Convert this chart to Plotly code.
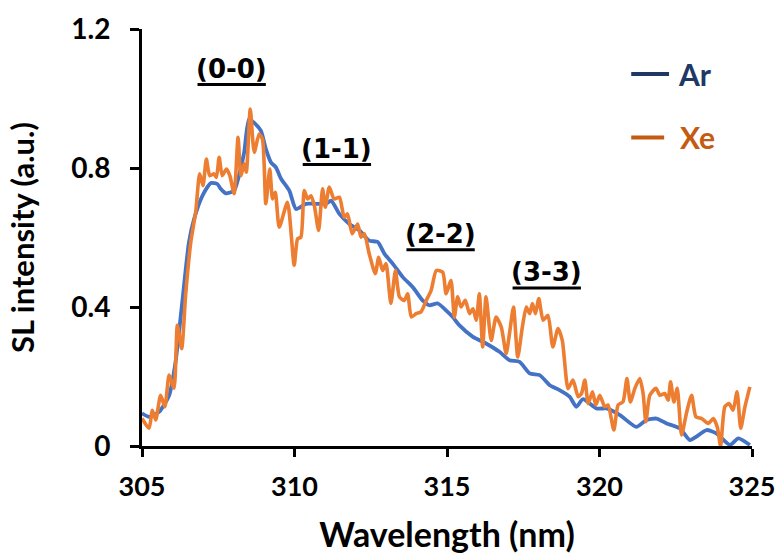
import plotly.graph_objects as go

# ---- data ----
ar_wl = [305.0, 305.23, 305.56, 305.89, 306.1, 306.32, 306.54, 306.71, 306.98, 307.26,
         307.47, 307.58, 307.75, 308.02, 308.18, 308.35, 308.51, 308.68, 308.9, 309.06,
         309.23, 309.39, 309.56, 309.83, 310.05, 310.38, 310.7, 311.03, 311.2, 311.47,
         311.8, 312.13, 312.45, 312.73, 312.95, 313.22, 313.55, 313.88, 314.2, 314.42,
         314.7, 315.02, 315.19, 315.41, 315.85, 316.28, 316.72, 317.05, 317.38, 317.71,
         318.04, 318.37, 318.69, 319.02, 319.24, 319.46, 319.9, 320.23, 320.67, 321.21,
         321.54, 321.87, 322.2, 322.63, 322.96, 323.18, 323.51, 323.84, 324.28, 324.55,
         324.93]
ar_int = [0.094, 0.084, 0.098, 0.146, 0.242, 0.414, 0.587, 0.654, 0.72, 0.757,
          0.754, 0.74, 0.727, 0.735, 0.778, 0.845, 0.94, 0.93, 0.907, 0.855,
          0.816, 0.802, 0.769, 0.735, 0.682, 0.697, 0.697, 0.697, 0.706, 0.668,
          0.639, 0.62, 0.591, 0.587, 0.553, 0.525, 0.486, 0.457, 0.419, 0.405,
          0.41, 0.386, 0.371, 0.347, 0.314, 0.295, 0.271, 0.247, 0.242, 0.209,
          0.204, 0.175, 0.161, 0.142, 0.113, 0.135, 0.108, 0.108, 0.089, 0.055,
          0.075, 0.079, 0.065, 0.051, 0.017, 0.027, 0.046, 0.036, 0.003, 0.022,
          0.003]

xe_wl = [305.0, 305.23, 305.34, 305.45, 305.61, 305.75, 305.89, 306.05, 306.16, 306.3,
         306.43, 306.6, 306.76, 306.89, 307.0, 307.11, 307.22, 307.36, 307.44, 307.53,
         307.63, 307.77, 307.88, 308.02, 308.15, 308.24, 308.35, 308.42, 308.55, 308.68,
         308.84, 308.95, 309.06, 309.19, 309.28, 309.37, 309.5, 309.77, 309.99, 310.1,
         310.21, 310.32, 310.43, 310.54, 310.65, 310.79, 310.92, 311.01, 311.14, 311.3,
         311.47, 311.63, 311.74, 311.89, 312.07, 312.18, 312.29, 312.45, 312.65, 312.76,
         312.89, 313.0, 313.16, 313.31, 313.44, 313.6, 313.71, 313.83, 313.99, 314.15,
         314.32, 314.48, 314.65, 314.86, 314.97, 315.13, 315.24, 315.35, 315.46, 315.6,
         315.74, 315.85, 315.96, 316.06, 316.17, 316.28, 316.45, 316.61, 316.78, 316.94,
         317.05, 317.18, 317.32, 317.47, 317.6, 317.71, 317.8, 317.9, 318.01, 318.15,
         318.31, 318.47, 318.64, 318.78, 318.97, 319.13, 319.3, 319.41, 319.52, 319.63,
         319.77, 319.88, 320.01, 320.17, 320.28, 320.47, 320.61, 320.77, 320.9, 321.01,
         321.16, 321.32, 321.43, 321.52, 321.65, 321.85, 321.98, 322.14, 322.25, 322.33,
         322.44, 322.55, 322.69, 322.86, 323.02, 323.16, 323.35, 323.57, 323.73, 323.86,
         323.97, 324.11, 324.25, 324.38, 324.51, 324.63, 324.77, 324.93]
xe_int = [0.079, 0.051, 0.103, 0.075, 0.146, 0.113, 0.204, 0.166, 0.347, 0.28,
          0.434, 0.587, 0.673, 0.783, 0.749, 0.826, 0.778, 0.783, 0.773, 0.831,
          0.778, 0.797, 0.778, 0.726, 0.888, 0.778, 0.812, 0.788, 0.97, 0.845,
          0.898, 0.883, 0.697, 0.797, 0.711, 0.73, 0.63, 0.701, 0.52, 0.596,
          0.601, 0.735, 0.711, 0.72, 0.692, 0.62, 0.74, 0.687, 0.745, 0.711,
          0.716, 0.658, 0.668, 0.611, 0.639, 0.601, 0.611, 0.553, 0.496, 0.543,
          0.505, 0.525, 0.41, 0.505, 0.429, 0.419, 0.438, 0.371, 0.381, 0.386,
          0.419, 0.448, 0.505, 0.50, 0.438, 0.476, 0.371, 0.429, 0.40, 0.419,
          0.381, 0.395, 0.362, 0.438, 0.285, 0.429, 0.304, 0.371, 0.342, 0.266,
          0.324, 0.40, 0.256, 0.342, 0.40, 0.381, 0.41, 0.381, 0.424, 0.362,
          0.376, 0.285, 0.338, 0.304, 0.165, 0.19, 0.142, 0.151, 0.19, 0.122,
          0.156, 0.118, 0.146, 0.113, 0.118, 0.046, 0.118, 0.127, 0.194, 0.127,
          0.166, 0.194, 0.151, 0.07, 0.146, 0.166, 0.146, 0.151, 0.132, 0.185,
          0.127, 0.166, 0.032, 0.098, 0.146, 0.084, 0.079, 0.065, 0.079, 0.055,
          0.0, 0.113, 0.122, 0.103, 0.156, 0.051, 0.113, 0.17]

peak_labels = ["(0-0)", "(1-1)", "(2-2)", "(3-3)"]
peak_x = [307.94, 311.39, 314.79, 318.27]
peak_y = [1.085, 0.855, 0.61, 0.50]

x_ticks = [305, 310, 315, 320, 325]
y_ticks = [0, 0.4, 0.8, 1.2]

AR_COLOR = "#4472C4"
XE_COLOR = "#ED7D31"
FONT = "Lato"

fig = go.Figure()
fig.add_trace(go.Scatter(x=ar_wl, y=ar_int, mode="lines", name="Ar",
                         line=dict(color=AR_COLOR, width=3.8, shape="spline", smoothing=0.6),
                         showlegend=False))
fig.add_trace(go.Scatter(x=xe_wl, y=xe_int, mode="lines", name="Xe",
                         line=dict(color=XE_COLOR, width=3.6, shape="spline", smoothing=0.6),
                         showlegend=False))

# peak labels with underline (underline offset/size are style, in axis units)
UL_HALF_W = 1.12   # half width of underline in nm
UL_DROP = 0.045    # underline distance below label centre
for lab, px, py in zip(peak_labels, peak_x, peak_y):
    fig.add_annotation(x=px, y=py, xref="x", yref="y", text="<b>" + lab + "</b>",
                       showarrow=False, xanchor="center", yanchor="middle",
                       font=dict(family="DejaVu Sans", size=26, color="black"))
    fig.add_shape(type="line", xref="x", yref="y", x0=px - UL_HALF_W, x1=px + UL_HALF_W,
                  y0=py - UL_DROP, y1=py - UL_DROP, line=dict(color="black", width=3))

# legend drawn manually
fig.add_shape(type="line", xref="paper", yref="paper", x0=0.802, x1=0.864, y0=0.892, y1=0.892,
              line=dict(color="#203864", width=4))
fig.add_annotation(x=0.876, y=0.892, xref="paper", yref="paper", text="<b>Ar</b>",
                   showarrow=False, xanchor="left", yanchor="middle",
                   font=dict(family=FONT, size=30, color="#203864"))
fig.add_shape(type="line", xref="paper", yref="paper", x0=0.802, x1=0.856, y0=0.740, y1=0.740,
              line=dict(color="#C55A11", width=4))
fig.add_annotation(x=0.879, y=0.740, xref="paper", yref="paper", text="<b>Xe</b>",
                   showarrow=False, xanchor="left", yanchor="middle",
                   font=dict(family=FONT, size=30, color="#C55A11"))

fig.update_layout(
    width=776, height=554,
    margin=dict(l=142, r=24, t=29, b=108, autoexpand=False),
    plot_bgcolor="white", paper_bgcolor="white",
    font=dict(family=FONT, color="black"),
)
fig.update_xaxes(range=[305, 325], tickvals=x_ticks, ticktext=[str(v) for v in x_ticks],
                 showgrid=False, zeroline=False, showline=True, linecolor="black", linewidth=3,
                 ticks="outside", ticklen=8, tickwidth=3, tickcolor="black", automargin=False,
                 ticklabelstandoff=7, ticklabeloverflow="allow",
                 tickfont=dict(family=FONT, size=27, color="black", weight="bold"),
                 title=dict(text="<b>Wavelength (nm)</b>", font=dict(family=FONT, size=34), standoff=27))
fig.update_yaxes(range=[0, 1.2], tickvals=y_ticks, ticktext=["0", "0.4", "0.8", "1.2"],
                 showgrid=False, zeroline=False, showline=True, linecolor="black", linewidth=3,
                 ticks="outside", ticklen=9, tickwidth=3, tickcolor="black", automargin=False,
                 ticklabelstandoff=14,
                 tickfont=dict(family=FONT, size=28, color="black", weight="bold"),
                 title=dict(text="<b>SL intensity (a.u.)</b>", font=dict(family=FONT, size=31), standoff=28))

# remove the default 8px page margin so the 776x554 figure fills the window exactly
fig.write_html("out.html", config={"displayModeBar": False},
               post_script="document.body.style.margin='0';document.body.style.overflow='hidden';")
